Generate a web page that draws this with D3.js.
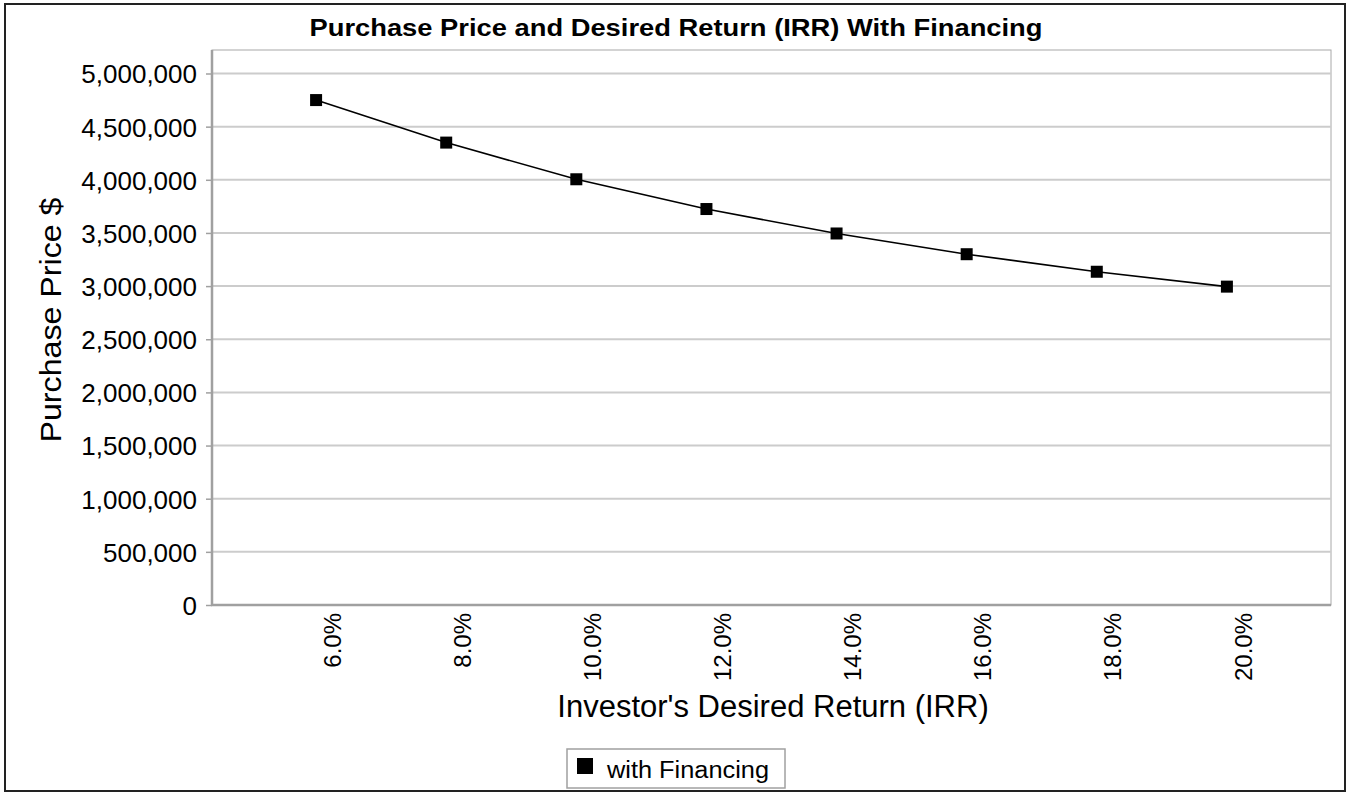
<!DOCTYPE html>
<html>
<head>
<meta charset="utf-8">
<script src="https://cdn.jsdelivr.net/npm/d3@7"></script>
<style>
  body { margin: 0; background: #fff; }
  text { font-family: "Liberation Sans", Arial, sans-serif; fill: #000; }
</style>
</head>
<body>
<div id="canvas"></div>
<script>
// chart data
var irrLabels = ["6.0%", "8.0%", "10.0%", "12.0%", "14.0%", "16.0%", "18.0%", "20.0%"];
var prices = [4750000, 4350000, 4005000, 3725000, 3495000, 3300000, 3135000, 2995000];
var yTicks = [0, 500000, 1000000, 1500000, 2000000, 2500000, 3000000, 3500000, 4000000, 4500000, 5000000];
var seriesName = "with Financing";

var W = 1348, H = 793;
var margin = {left: 212, right: 17, top: 50, bottom: 188};
var width = W - margin.left - margin.right;
var height = H - margin.top - margin.bottom;

var svg = d3.select("#canvas").append("svg")
  .attr("width", W)
  .attr("height", H);

// outer frame
svg.append("rect")
  .attr("x", 5).attr("y", 4)
  .attr("width", 1340).attr("height", 787)
  .attr("fill", "none")
  .attr("stroke", "#222")
  .attr("stroke-width", 2);

// title
svg.append("text")
  .attr("x", 676).attr("y", 36)
  .attr("text-anchor", "middle")
  .attr("font-size", "23px")
  .attr("font-weight", "bold")
  .attr("textLength", 733)
  .attr("lengthAdjust", "spacingAndGlyphs")
  .text("Purchase Price and Desired Return (IRR) With Financing");

var g = svg.append("g")
  .attr("transform", "translate(" + margin.left + ", " + margin.top + ")");

var x = d3.scalePoint()
  .domain(irrLabels)
  .range([0, width])
  .padding(0.8);

var y = d3.scaleLinear()
  .domain([0, 5000000])
  .range([height, height - 531.5]);

// plot outline
g.append("rect")
  .attr("x", 0).attr("y", 0)
  .attr("width", width).attr("height", height)
  .attr("fill", "none")
  .attr("stroke", "#a8a8a8")
  .attr("stroke-width", 1);

// gridlines
g.selectAll(".grid")
  .data(yTicks.filter((d) => d > 0))
  .enter().append("line")
  .attr("class", "grid")
  .attr("x1", 0).attr("x2", width)
  .attr("y1", (d) => y(d)).attr("y2", (d) => y(d))
  .attr("stroke", "#cccccc")
  .attr("stroke-width", 2);

// y axis
var leftAxis = d3.axisLeft(y).tickValues(yTicks).tickFormat(d3.format(",")).tickSize(6).tickPadding(9);
var ya = g.append("g").attr("class", "left axis").call(leftAxis);
ya.select(".domain").remove();
ya.selectAll(".tick line").attr("stroke", "#a0a0a0").attr("stroke-width", 1.5);
ya.selectAll(".tick text")
  .attr("font-size", "26px")
  .attr("font-family", "Liberation Sans, Arial, sans-serif")
  .attr("fill", "#000")
  .attr("dy", "0.36em");

// axis lines
g.append("line")
  .attr("x1", 0).attr("x2", 0)
  .attr("y1", 0).attr("y2", height + 1)
  .attr("stroke", "#a0a0a0").attr("stroke-width", 2.5);
g.append("line")
  .attr("x1", -1).attr("x2", width)
  .attr("y1", height).attr("y2", height)
  .attr("stroke", "#a0a0a0").attr("stroke-width", 2.5);

// x tick labels (rotated)
g.selectAll(".xlab")
  .data(irrLabels)
  .enter().append("text")
  .attr("class", "xlab")
  .attr("transform", (d) => "translate(" + (x(d) + 16) + "," + (height + 8) + ") rotate(-90)")
  .attr("text-anchor", "end")
  .attr("dy", "0.36em")
  .attr("font-size", "24px")
  .text((d) => d);

// axis titles
svg.append("text")
  .attr("x", 773).attr("y", 717)
  .attr("text-anchor", "middle")
  .attr("font-size", "31px")
  .text("Investor's Desired Return (IRR)");

svg.append("text")
  .attr("transform", "translate(61, 320) rotate(-90)")
  .attr("text-anchor", "middle")
  .attr("font-size", "29px")
  .attr("textLength", 245)
  .attr("lengthAdjust", "spacingAndGlyphs")
  .text("Purchase Price $");

// series line
var line = d3.line()
  .x((d, i) => x(irrLabels[i]))
  .y((d) => y(d));

g.append("path")
  .datum(prices)
  .attr("d", line)
  .attr("fill", "none")
  .attr("stroke", "#000")
  .attr("stroke-width", 1.6);

g.selectAll(".pt")
  .data(prices)
  .enter().append("rect")
  .attr("class", "pt")
  .attr("x", (d, i) => x(irrLabels[i]) - 6)
  .attr("y", (d) => y(d) - 6)
  .attr("width", 12).attr("height", 12)
  .attr("fill", "#000");

// legend
var lg = svg.append("g").attr("transform", "translate(567, 749)");
lg.append("rect")
  .attr("width", 218).attr("height", 39)
  .attr("fill", "#fff")
  .attr("stroke", "#a0a0a0")
  .attr("stroke-width", 1.5);
lg.append("rect")
  .attr("x", 10).attr("y", 9)
  .attr("width", 16).attr("height", 16)
  .attr("fill", "#000");
lg.append("text")
  .attr("x", 40).attr("y", 29)
  .attr("font-size", "23px")
  .attr("textLength", 162)
  .attr("lengthAdjust", "spacingAndGlyphs")
  .text(seriesName);
</script>
</body>
</html>
